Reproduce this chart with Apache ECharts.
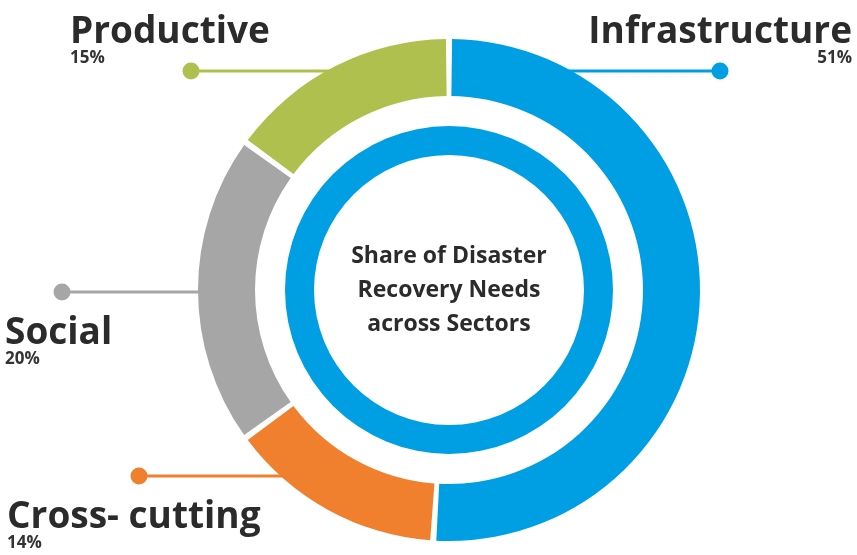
<!DOCTYPE html>
<html>
<head>
<meta charset="utf-8">
<script src="https://cdn.jsdelivr.net/npm/echarts@6/dist/echarts.min.js"></script>
<style>
html,body{margin:0;padding:0;background:#fff;}
#chart{width:857px;height:555px;}
</style>
</head>
<body>
<div id="chart"></div>
<script>
// ---- data ----
const categories = ['Infrastructure', 'Cross- cutting', 'Social', 'Productive'];
const shares = [51, 14, 20, 15];
const centerTitle = 'Share of Disaster\nRecovery Needs\nacross Sectors';

// ---- styles / layout (not data) ----
const colors = ['#009FE3', '#F0802E', '#A6A6A6', '#B0C04E'];
const CX = 449, CY = 290, R_OUT = 251, R_IN = 194;
// label anchor: text x, text top y, align, leader y, dot x, side of ring
const labelLayoutCfg = [
  { tx: 852, ty: 13,  align: 'right', ly: 71,  dx: 720, side: 1 },
  { tx: 7,   ty: 498, align: 'left',  ly: 476, dx: 139, side: -1 },
  { tx: 5,   ty: 314, align: 'left',  ly: 292, dx: 62,  side: -1 },
  { tx: 70,  ty: 13,  align: 'left',  ly: 71,  dx: 191, side: -1 }
];
function ringX(cfg) {
  const r = R_OUT - 2;
  const dy = cfg.ly - CY;
  return CX + cfg.side * Math.sqrt(r * r - dy * dy);
}

const chart = echarts.init(document.getElementById('chart'), null, { renderer: 'canvas' });

const option = {
  backgroundColor: '#ffffff',
  animation: false,
  series: [
    {
      type: 'pie',
      center: [CX, CY],
      radius: [R_IN, R_OUT],
      startAngle: 90,
      clockwise: true,
      padAngle: 1.4,
      avoidLabelOverlap: false,
      silent: true,
      data: categories.map((c, i) => ({
        name: c, value: shares[i],
        itemStyle: { color: colors[i] },
        label: { align: labelLayoutCfg[i].align },
        labelLine: { lineStyle: { color: colors[i] } }
      })),
      label: {
        show: true,
        position: 'outside',
        formatter: p => '{n|' + p.name + '}\n{p|' + p.value + '%}',
        rich: {
          n: { fontFamily: 'Open Sans', fontWeight: 'bold', fontSize: 37, lineHeight: 39, color: '#2b2b2b' },
          p: { fontFamily: 'Open Sans', fontWeight: 'bold', fontSize: 17, lineHeight: 13, color: '#333333' }
        }
      },
      labelLine: { show: true, lineStyle: { width: 3 } },
      labelLayout: function (params) {
        const cfg = labelLayoutCfg[params.dataIndex];
        const rx = ringX(cfg);
        return {
          x: cfg.tx,
          y: cfg.ty,
          align: cfg.align,
          verticalAlign: 'top',
          labelLinePoints: [[rx, cfg.ly], [(rx + cfg.dx) / 2, cfg.ly], [cfg.dx, cfg.ly]]
        };
      }
    },
    {
      type: 'pie',
      center: [CX, CY],
      radius: [135, 164],
      silent: true,
      z: 3,
      data: [{ name: centerTitle, value: 1, itemStyle: { color: colors[0] } }],
      label: {
        show: true,
        position: 'center',
        formatter: centerTitle,
        fontFamily: 'Open Sans',
        fontWeight: 'bold',
        fontSize: 23,
        lineHeight: 34,
        padding: [12, 0, 0, 0],
        color: '#2b2b2b'
      },
      labelLine: { show: false }
    }
  ],
  graphic: labelLayoutCfg.map((cfg, i) => ({
    type: 'circle',
    shape: { cx: cfg.dx, cy: cfg.ly, r: 8.5 },
    style: { fill: colors[i] },
    z: 100
  }))
};
chart.setOption(option);
</script>
</body>
</html>
